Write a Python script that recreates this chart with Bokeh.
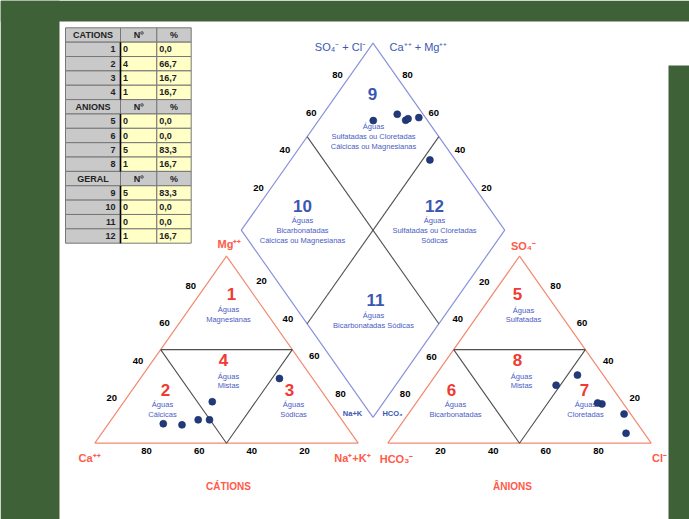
import numpy as np
from bokeh.plotting import figure
from bokeh.models import Range1d, BoxAnnotation
from bokeh.embed import file_html
from bokeh.resources import INLINE
from bokeh.core.properties import value

# ---------------- data ----------------
ca   = [68.8, 62.0, 54.5, 50.2, 44.3, 12.6]
mg   = [10.4,  9.8, 12.5, 12.5, 22.2, 34.6]
nak  = [20.8, 28.2, 33.0, 37.3, 33.5, 52.8]
hco3 = [20.6,  9.8,  8.2,  2.5,  6.9,  9.6]
so4  = [31.0, 36.4, 21.0, 15.6,  5.3, 21.5]
cl   = [48.4, 53.8, 70.8, 81.9, 87.8, 68.9]

table_groups = ["CATIONS", "ANIONS", "GERAL"]
cation_fields = ["1", "2", "3", "4"]
cation_n = ["0", "4", "1", "1"]
cation_pct = ["0,0", "66,7", "16,7", "16,7"]
anion_fields = ["5", "6", "7", "8"]
anion_n = ["0", "0", "5", "1"]
anion_pct = ["0,0", "0,0", "83,3", "16,7"]
geral_fields = ["9", "10", "11", "12"]
geral_n = ["5", "0", "0", "1"]
geral_pct = ["83,3", "0,0", "0,0", "16,7"]

tick_values = [20, 40, 60, 80]

# ---------------- layout constants ----------------
FONT = value("Liberation Sans")
GREEN = "#3e6138"
SALMON = "#f38a72"
DBLUE = "#8a93db"
GRAY = "#505050"
RED = "#f03a32"
BLUE = "#3a57b3"
TBLUE = "#4b5cc4"
PT = "#223a7c"

W, H_FIG = 689, 519
SX, SY = 2.634, 2.16          # px per data unit
ORX, ORY = 94.3, 442.7        # page px of data origin
FX, FY = 0, 0                 # figure page offset

def P(xp, yp):
    return (xp - ORX) / SX, (ORY - yp) / SY

def O(dxp, dyp):
    return dxp / SX, -dyp / SY

TH = np.sqrt(3) / 2 * 100.0   # triangle height in data
GAP = 11.24
DY = 12.0
X0 = 100 + GAP
BX, BY = 100 + GAP / 2, DY

x0, y1 = P(FX, FY)
x1, y0 = P(FX + W, FY + H_FIG)

p = figure(width=W, height=H_FIG, output_backend="svg", toolbar_location=None,
           x_range=Range1d(x0, x1), y_range=Range1d(y0, y1),
           min_border=0, outline_line_color=None)
p.axis.visible = False
p.grid.visible = False
p.background_fill_color = "white"
p.border_fill_color = "white"

# green frame
gl, _ = P(59, 0)
_, gt = P(0, 21)
gr, _ = P(668, 0)
_, grt = P(0, 65)
p.add_layout(BoxAnnotation(right=gl, fill_color=GREEN, fill_alpha=1, line_alpha=0, level="underlay"))
p.add_layout(BoxAnnotation(bottom=gt, fill_color=GREEN, fill_alpha=1, line_alpha=0, level="underlay"))
p.add_layout(BoxAnnotation(left=gr, top=grt, fill_color=GREEN, fill_alpha=1, line_alpha=0, level="underlay"))

# ---------------- geometry ----------------
p.line([0, 100, 50, 0], [0, 0, TH, 0], line_color=SALMON, line_width=1.2)
p.line([25, 75, 50, 25], [TH / 2, TH / 2, 0, TH / 2], line_color=GRAY, line_width=1.1)
p.line([X0, X0 + 100, X0 + 50, X0], [0, 0, TH, 0], line_color=SALMON, line_width=1.2)
p.line([X0 + 25, X0 + 75, X0 + 50, X0 + 25], [TH / 2, TH / 2, 0, TH / 2], line_color=GRAY, line_width=1.1)
dx = [BX, BX + 50, BX, BX - 50, BX]
dy = [BY, BY + TH, BY + 2 * TH, BY + TH, BY]
p.line(dx, dy, line_color=DBLUE, line_width=1.2)
p.segment(x0=[BX - 25, BX + 25], y0=[BY + 1.5 * TH, BY + 1.5 * TH],
          x1=[BX + 25, BX - 25], y1=[BY + 0.5 * TH, BY + 0.5 * TH],
          line_color=GRAY, line_width=1.1)

# ---------------- tick labels ----------------
tv = np.array(tick_values, dtype=float)
tl = [str(v) for v in tick_values]
edges = [
    (tv / 2, tv * TH / 100, O(-9.4, -7.5)),
    (50 + tv / 2, TH - tv * TH / 100, O(8.7, -12.2)),
    (100 - tv, 0 * tv, O(-1, 7.3)),
    (X0 + 50 - tv / 2, TH - tv * TH / 100, O(-9, -11.6)),
    (X0 + 100 - tv / 2, tv * TH / 100, O(9.8, -7.8)),
    (X0 + tv, 0 * tv, O(0, 7.3)),
    (BX - 50 + tv / 2, BY + TH + tv * TH / 100, O(-9.1, -5.1)),
    (BX + 50 - tv / 2, BY + TH + tv * TH / 100, O(8.1, -5.2)),
]
for ex, ey, (ox, oy) in edges:
    p.text(x=list(ex + ox), y=list(ey + oy), text=tl, text_font=FONT,
           text_font_size="9.5px", text_font_style="bold", text_color="black",
           text_align="center", text_baseline="middle")

# ---------------- region labels ----------------
regions = [
    ("1", RED, (231, 293), ["Águas", "Magnesianas"], 228, [309, 319]),
    ("2", RED, (165, 389), ["Águas", "Cálcicas"], 162, [404, 414]),
    ("3", RED, (289, 389), ["Águas", "Sódicas"], 293, [404, 414]),
    ("4", RED, (223, 359), ["Águas", "Mistas"], 228, [376, 385]),
    ("5", RED, (517, 293), ["Águas", "Sulfatadas"], 523, [310, 319]),
    ("6", RED, (451, 389), ["Águas", "Bicarbonatadas"], 455, [404, 414]),
    ("7", RED, (584, 389), ["Águas", "Cloretadas"], 585, [404, 414]),
    ("8", RED, (517, 359), ["Águas", "Mistas"], 521, [376, 385]),
    ("9", BLUE, (372, 93), ["Águas", "Sulfatadas ou Cloretadas", "Cálcicas ou Magnesianas"], 373, [126, 136, 146]),
    ("10", BLUE, (302, 205), ["Águas", "Bicarbonatadas", "Cálcicas ou Magnesianas"], 302, [220, 230, 240]),
    ("11", BLUE, (375, 299), ["Águas", "Bicarbonatadas Sódicas"], 373, [315, 325]),
    ("12", BLUE, (434, 205), ["Águas", "Sulfatadas ou Cloretadas", "Sódicas"], 434, [220, 230, 240]),
]
nx, ny, nt, nc = [], [], [], []
lx, ly, lt = [], [], []
for num, col, (px_, py_), lines, lxp, lyps in regions:
    a, b = P(px_, py_)
    nx.append(a); ny.append(b); nt.append(num); nc.append(col)
    for s, yy in zip(lines, lyps):
        a, b = P(lxp, yy)
        lx.append(a); ly.append(b); lt.append(s)
p.text(x=nx, y=ny, text=nt, text_color=nc, text_font=FONT, text_font_size="17px",
       text_font_style="bold", text_align="center", text_baseline="middle")
p.text(x=lx, y=ly, text=lt, text_color=TBLUE, text_font=FONT, text_font_size="7.5px",
       text_align="center", text_baseline="middle")

# ---------------- vertex labels ----------------
def lab(items, color, size, style="bold"):
    xs, ys, ts = [], [], []
    for t, (a, b) in items:
        u, v = P(a, b)
        xs.append(u); ys.append(v); ts.append(t)
    p.text(x=xs, y=ys, text=ts, text_color=color, text_font=FONT, text_font_size=size,
           text_font_style=style, text_align="center", text_baseline="middle")

lab([("Mg⁺⁺", (229, 243)), ("Ca⁺⁺", (89, 457)), ("Na⁺+K⁺", (352, 457)),
     ("SO₄⁻", (523, 245)), ("HCO₃⁻", (396, 458)), ("Cl⁻", (659, 457))], "#ff5a4a", "11px")
lab([("SO₄⁻ + Cl⁻", (340, 46)), ("Ca⁺⁺ + Mg⁺⁺", (418, 46))], BLUE, "11px", "normal")
lab([("Na+K", (352, 413)), ("HCO₃", (392, 413))], BLUE, "7.5px")
lab([("CÁTIONS", (228, 486)), ("ÂNIONS", (512, 486))], "#ff5a4a", "10px")

# ---------------- sample points ----------------
ca_a, mg_a, na_a = map(np.array, (ca, mg, nak))
hc_a, so_a, cl_a = map(np.array, (hco3, so4, cl))
cx = na_a + mg_a / 2
cy = mg_a * TH / 100
ax = X0 + cl_a + so_a / 2
ay = so_a * TH / 100
s_ = so_a + cl_a
qx = BX + 0.5 * (s_ + na_a - 100)
qy = BY + TH / 100 * (100 - na_a + s_)
for xx, yy in ((cx, cy), (ax, ay), (qx, qy)):
    p.scatter(x=list(xx), y=list(yy), size=7, fill_color=PT, line_color="#1a2d63", line_width=0.6)

# ---------------- table ----------------
rows = []
for g, f, n, pc in ((table_groups[0], cation_fields, cation_n, cation_pct),
                    (table_groups[1], anion_fields, anion_n, anion_pct),
                    (table_groups[2], geral_fields, geral_n, geral_pct)):
    rows.append((g, "Nº", "%", True))
    for a, b, c in zip(f, n, pc):
        rows.append((a, b, c, False))

T0, RH = 27.3, 14.36
COLS = [65, 120, 156.3, 190.7]
ql, qr, qt, qb, qc = [], [], [], [], []
tx, ty, tt, ta = [], [], [], []
for i, (c1, c2, c3, hdr) in enumerate(rows):
    top = T0 + i * RH
    bot = top + RH
    for j in range(3):
        l, t = P(COLS[j], top)
        r, b = P(COLS[j + 1], bot)
        ql.append(l); qr.append(r); qt.append(t); qb.append(b)
        qc.append("#c9c9c9" if (hdr or j == 0) else "#ffffc6")
    ymid = top + RH / 2
    if hdr:
        for j, s in enumerate((c1, c2, c3)):
            a, b = P((COLS[j] + COLS[j + 1]) / 2, ymid)
            tx.append(a); ty.append(b); tt.append(s); ta.append("center")
    else:
        a, b = P(COLS[1] - 5, ymid)
        tx.append(a); ty.append(b); tt.append(c1); ta.append("right")
        a, b = P(COLS[1] + 2.5, ymid)
        tx.append(a); ty.append(b); tt.append(c2); ta.append("left")
        a, b = P(COLS[2] + 2.5, ymid)
        tx.append(a); ty.append(b); tt.append(c3); ta.append("left")

p.quad(left=ql, right=qr, top=qt, bottom=qb, fill_color=qc, line_color="#777777", line_width=1)
sx0, sy0, sx1, sy1 = [], [], [], []
for i, r_ in enumerate(rows):
    if not r_[3]:
        a, t = P(COLS[1], T0 + i * RH)
        _, b = P(COLS[1], T0 + (i + 1) * RH)
        sx0.append(a); sy0.append(t); sx1.append(a); sy1.append(b)
p.segment(x0=sx0, y0=sy0, x1=sx1, y1=sy1, line_color="black", line_width=1.6)
p.text(x=tx, y=ty, text=tt, text_align=ta, text_baseline="middle", text_font=FONT,
       text_font_size="9px", text_font_style="bold", text_color="#222222")

open("out.html", "w").write(file_html(p, INLINE))
